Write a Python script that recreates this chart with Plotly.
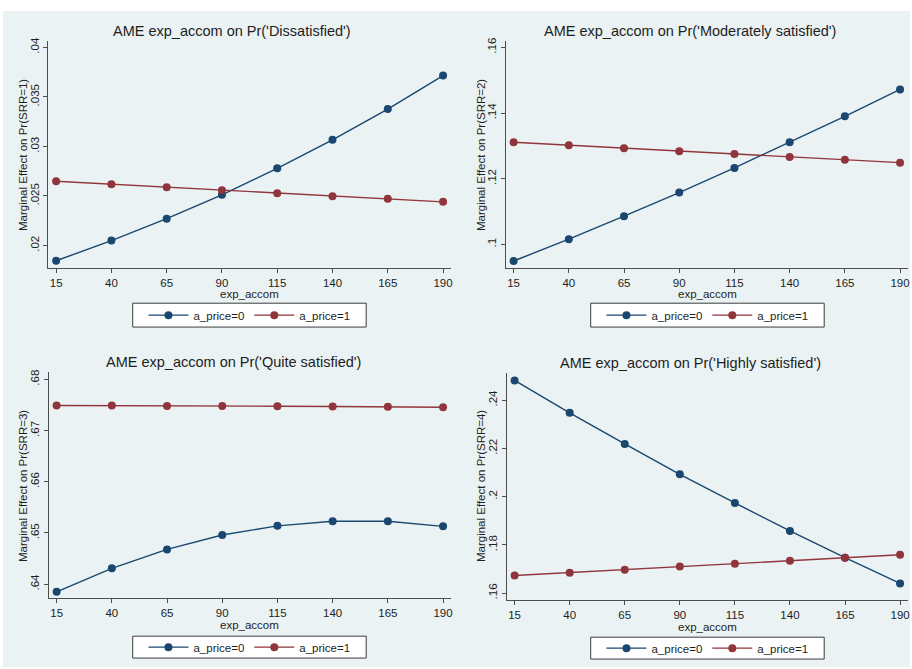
import plotly.graph_objects as go

# ---- data ----
exp_accom = [15, 40, 65, 90, 115, 140, 165, 190]

srr1_price0 = [0.01846, 0.0205, 0.02271, 0.02512, 0.02779, 0.03067, 0.03378, 0.03716]
srr1_price1 = [0.02649, 0.02619, 0.02589, 0.02559, 0.02528, 0.02498, 0.02472, 0.02441]

srr2_price0 = [0.09496, 0.1016, 0.1086, 0.1158, 0.1233, 0.1311, 0.1390, 0.1472]
srr2_price1 = [0.1311, 0.1302, 0.1293, 0.1284, 0.1275, 0.1266, 0.1258, 0.1249]

srr3_price0 = [0.63851, 0.6431, 0.6468, 0.6496, 0.6514, 0.6523, 0.6523, 0.6513]
srr3_price1 = [0.6749, 0.6749, 0.67483, 0.6748, 0.67477, 0.6747, 0.67464, 0.67457]

srr4_price0 = [0.2482, 0.2348, 0.2219, 0.2093, 0.1974, 0.1858, 0.1747, 0.1640]
srr4_price1 = [0.1673, 0.1685, 0.1697, 0.1710, 0.1722, 0.1734, 0.1747, 0.1759]

titles = ["AME exp_accom on Pr('Dissatisfied')",
          "AME exp_accom on Pr('Moderately satisfied')",
          "AME exp_accom on Pr('Quite satisfied')",
          "AME exp_accom on Pr('Highly satisfied')"]
ytitles = ["Marginal Effect on Pr(SRR=1)", "Marginal Effect on Pr(SRR=2)",
           "Marginal Effect on Pr(SRR=3)", "Marginal Effect on Pr(SRR=4)"]
yticks = [[0.02, 0.025, 0.03, 0.035, 0.04],
          [0.1, 0.12, 0.14, 0.16],
          [0.64, 0.65, 0.66, 0.67, 0.68],
          [0.16, 0.18, 0.2, 0.22, 0.24]]
yticktext = [[".02", ".025", ".03", ".035", ".04"],
             [".1", ".12", ".14", ".16"],
             [".64", ".65", ".66", ".67", ".68"],
             [".16", ".18", ".2", ".22", ".24"]]
series_names = ["a_price=0", "a_price=1"]

# ---- layout geometry ----
W, H = 912, 669
panels = [
    dict(x0=48.5, x1=452, y0=37, y1=266, yr=[0.01769, 0.04067], title=(233, 27), xt=(250, 292),
         yt=(23, 152), leg=(133, 367, 301, 325)),
    dict(x0=507, x1=910, y0=37, y1=266, yr=[0.0927, 0.162], title=(692, 27), xt=(709, 292),
         yt=(482, 152), leg=(592, 826, 301, 325)),
    dict(x0=49, x1=452, y0=370, y1=598, yr=[0.63722, 0.68149], title=(234, 360), xt=(250, 625),
         yt=(23, 485), leg=(133, 367, 636, 658)),
    dict(x0=508, x1=910, y0=371, y1=600, yr=[0.15698, 0.25139], title=(692, 361), xt=(709, 627),
         yt=(482, 485), leg=(592, 826, 637, 659)),
]
data = [(srr1_price0, srr1_price1), (srr2_price0, srr2_price1),
        (srr3_price0, srr3_price1), (srr4_price0, srr4_price1)]

NAVY = "#1a476f"
MAROON = "#90353b"
BG = "#eaf2f3"
FONT = "Liberation Sans, Arial, sans-serif"
AXC = "#4d4d4d"
TXT = "#1e1e1e"

fig = go.Figure()
shapes = [dict(type="rect", xref="paper", yref="paper", x0=3 / W, x1=1, y0=1 - 667 / H, y1=1 - 7 / H,
               fillcolor=BG, line=dict(width=0), layer="below")]
layout = dict(
    width=W, height=H, margin=dict(l=0, r=0, t=0, b=0),
    paper_bgcolor="white", plot_bgcolor="white",
    font=dict(family=FONT, size=11, color=TXT),
    annotations=[],
)

for i, p in enumerate(panels):
    n = i + 1
    xa = "x" if n == 1 else f"x{n}"
    ya = "y" if n == 1 else f"y{n}"
    legname = "legend" if n == 1 else f"legend{n}"
    for j, (vals, col) in enumerate(zip(data[i], [NAVY, MAROON])):
        fig.add_trace(go.Scatter(
            x=exp_accom, y=vals, mode="lines+markers", name=series_names[j],
            line=dict(color=col, width=1.4), marker=dict(color=col, size=8),
            xaxis=xa, yaxis=ya, legend=legname, showlegend=True, cliponaxis=False))
    xkey = "xaxis" if n == 1 else f"xaxis{n}"
    ykey = "yaxis" if n == 1 else f"yaxis{n}"
    layout[xkey] = dict(
        domain=[p["x0"] / W, p["x1"] / W], anchor=ya, range=[11.5, 193.6],
        tickvals=exp_accom, ticks="outside", ticklen=4, tickcolor=AXC, tickwidth=1,
        showline=True, linecolor=AXC, linewidth=1, showgrid=False, zeroline=False,
        tickfont=dict(size=11.5, color=TXT), fixedrange=True)
    layout[ykey] = dict(
        domain=[1 - p["y1"] / H, 1 - p["y0"] / H], anchor=xa, range=p["yr"],
        tickvals=yticks[i], ticktext=yticktext[i], tickangle=-90,
        ticks="outside", ticklen=4, tickcolor=AXC, tickwidth=1,
        showline=True, linecolor=AXC, linewidth=1, showgrid=True, gridcolor=BG, gridwidth=1,
        zeroline=False, tickfont=dict(size=11.5, color=TXT), fixedrange=True)
    lx0, lx1, ly0, ly1 = p["leg"]
    shapes.append(dict(type="rect", xref="paper", yref="paper",
                       x0=lx0 / W, x1=lx1 / W, y0=1 - ly1 / H, y1=1 - ly0 / H,
                       fillcolor="white", line=dict(color="#3c3c3c", width=1), layer="below"))
    layout[legname] = dict(
        orientation="h", x=(lx0 + lx1) / 2 / W, xanchor="center",
        y=1 - (ly0 + ly1) / 2 / H, yanchor="middle",
        bgcolor="rgba(0,0,0,0)", borderwidth=0,
        font=dict(size=11.5, family=FONT, color=TXT), itemwidth=40, tracegroupgap=0)
    layout["annotations"] += [
        dict(text=titles[i], x=p["title"][0] / W, y=1 - p["title"][1] / H, xref="paper", yref="paper",
             showarrow=False, xanchor="center", yanchor="middle", font=dict(size=14.5, color=TXT)),
        dict(text="exp_accom", x=p["xt"][0] / W, y=1 - p["xt"][1] / H, xref="paper", yref="paper",
             showarrow=False, xanchor="center", yanchor="middle", font=dict(size=11.5, color=TXT)),
        dict(text=ytitles[i], x=p["yt"][0] / W, y=1 - p["yt"][1] / H, xref="paper", yref="paper",
             showarrow=False, xanchor="center", yanchor="middle", textangle=-90,
             font=dict(size=11.5, color=TXT)),
    ]

layout["shapes"] = shapes
fig.update_layout(**layout)
fig.write_html(
    "out.html",
    config={"displayModeBar": False},
    post_script="document.body.style.margin='0';document.body.style.padding='0';"
                "document.body.style.overflow='hidden';",
)
